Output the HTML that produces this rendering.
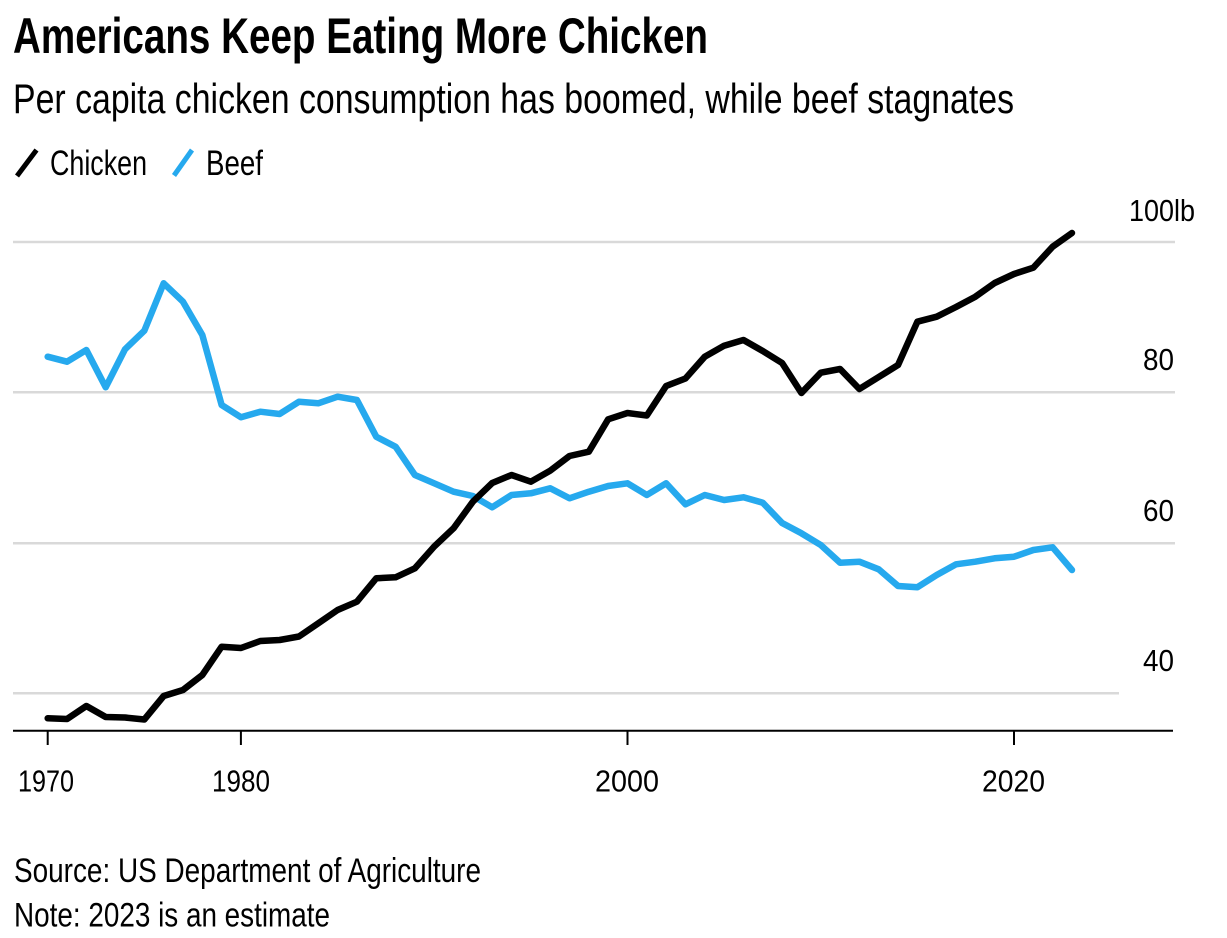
<!DOCTYPE html>
<html>
<head>
<meta charset="utf-8">
<style>
  html, body { margin: 0; padding: 0; background: #ffffff; }
  body { width: 1227px; height: 938px; overflow: hidden; }
  svg { display: block; }
  text { font-family: "Liberation Sans", "DejaVu Sans", sans-serif; fill: #000; }
</style>
</head>
<body>
<svg width="1227" height="938" viewBox="0 0 1227 938" xmlns="http://www.w3.org/2000/svg">
  <rect x="0" y="0" width="1227" height="938" fill="#ffffff"/>

  <!-- Title / subtitle -->
  <text x="13" y="53" font-size="50" font-weight="bold" textLength="695" lengthAdjust="spacingAndGlyphs">Americans Keep Eating More Chicken</text>
  <text x="13" y="113" font-size="42" textLength="1001" lengthAdjust="spacingAndGlyphs">Per capita chicken consumption has boomed, while beef stagnates</text>

  <!-- Legend -->
  <line x1="17" y1="176" x2="36.5" y2="150" stroke="#000" stroke-width="5" stroke-linecap="butt"/>
  <text x="50" y="175" font-size="35" textLength="97" lengthAdjust="spacingAndGlyphs">Chicken</text>
  <line x1="174" y1="175.5" x2="192" y2="150" stroke="#26a9ee" stroke-width="5" stroke-linecap="butt"/>
  <text x="206" y="175" font-size="35" textLength="57" lengthAdjust="spacingAndGlyphs">Beef</text>

  <!-- Gridlines -->
  <g stroke="#d9d9d9" stroke-width="2.5">
    <line x1="13" y1="242" x2="1175" y2="242"/>
    <line x1="13" y1="392.3" x2="1175" y2="392.3"/>
    <line x1="13" y1="543.3" x2="1175" y2="543.3"/>
    <line x1="13" y1="693.3" x2="1119" y2="693.3"/>
  </g>

  <!-- Y labels -->
  <text x="1129" y="221" font-size="31" textLength="66" lengthAdjust="spacingAndGlyphs">100lb</text>
  <text x="1143" y="370" font-size="31" textLength="31" lengthAdjust="spacingAndGlyphs">80</text>
  <text x="1143" y="521" font-size="31" textLength="31" lengthAdjust="spacingAndGlyphs">60</text>
  <text x="1143" y="671" font-size="31" textLength="31" lengthAdjust="spacingAndGlyphs">40</text>

  <!-- X axis -->
  <line x1="13" y1="730.7" x2="1173" y2="730.7" stroke="#000" stroke-width="2"/>
  <g stroke="#000" stroke-width="2">
    <line x1="47.7" y1="731" x2="47.7" y2="745"/>
    <line x1="240.9" y1="731" x2="240.9" y2="745"/>
    <line x1="627.5" y1="731" x2="627.5" y2="745"/>
    <line x1="1014" y1="731" x2="1014" y2="745"/>
  </g>
  <text x="18" y="791.5" font-size="31" textLength="56" lengthAdjust="spacingAndGlyphs">1970</text>
  <text x="212" y="791.5" font-size="31" textLength="58" lengthAdjust="spacingAndGlyphs">1980</text>
  <text x="595" y="791.5" font-size="31" textLength="64" lengthAdjust="spacingAndGlyphs">2000</text>
  <text x="982" y="791.5" font-size="31" textLength="63" lengthAdjust="spacingAndGlyphs">2020</text>

  <!-- Beef series -->
  <polyline fill="none" stroke="#26a9ee" stroke-width="6.5" stroke-linejoin="round" stroke-linecap="round"
    points="47.7,356.7 67.03,361.7 86.35,350 105.68,387.3 125.0,349.3 144.33,330.7 163.66,283.3 182.98,301.7 202.31,335 221.63,405 240.96,417.3 260.29,411.7 279.61,414 298.94,401.7 318.26,403.3 337.59,396.7 356.92,400 376.24,436.7 395.57,446.7 414.89,475 434.22,483.3 453.55,491.7 472.87,496 492.2,507.3 511.52,495 530.85,493.3 550.18,488.3 569.5,498.3 588.83,491.7 608.15,486 627.48,483.3 646.81,495 666.13,483.3 685.46,504.3 704.78,495 724.11,500 743.44,497.3 762.76,502.7 782.09,523 801.41,533.3 820.74,545 840.07,562.7 859.39,561.7 878.72,569.3 898.04,586 917.37,587.3 936.70,575 956.02,564.3 975.35,561.7 994.67,558.3 1014.0,556.7 1033.33,550 1052.65,547.3 1071.98,570"/>

  <!-- Chicken series -->
  <polyline fill="none" stroke="#000000" stroke-width="6.5" stroke-linejoin="round" stroke-linecap="round"
    points="47.7,718.3 67.03,719 86.35,706 105.68,717 125.0,717.5 144.33,719.5 163.66,696 182.98,690 202.31,675 221.63,646.7 240.96,648 260.29,641 279.61,640 298.94,636.5 318.26,623.3 337.59,610 356.92,601.7 376.24,578.3 395.57,577.3 414.89,568.3 434.22,546.5 453.55,528.3 472.87,501.7 492.2,483 511.52,475 530.85,481.7 550.18,470.7 569.5,456 588.83,451.7 608.15,419.3 627.48,413 646.81,415.5 666.13,386 685.46,378.5 704.78,356.7 724.11,345.7 743.44,340 762.76,351 782.09,363 801.41,393 820.74,372.7 840.07,369 859.39,389 878.72,377 898.04,365 917.37,321.7 936.70,316.7 956.02,307 975.35,296.7 994.67,283 1014.0,274 1033.33,267.7 1052.65,246.7 1071.98,233"/>

  <!-- Footer -->
  <text x="14" y="882" font-size="34" textLength="467" lengthAdjust="spacingAndGlyphs">Source: US Department of Agriculture</text>
  <text x="14" y="926.5" font-size="34" textLength="316" lengthAdjust="spacingAndGlyphs">Note: 2023 is an estimate</text>
</svg>
</body>
</html>
